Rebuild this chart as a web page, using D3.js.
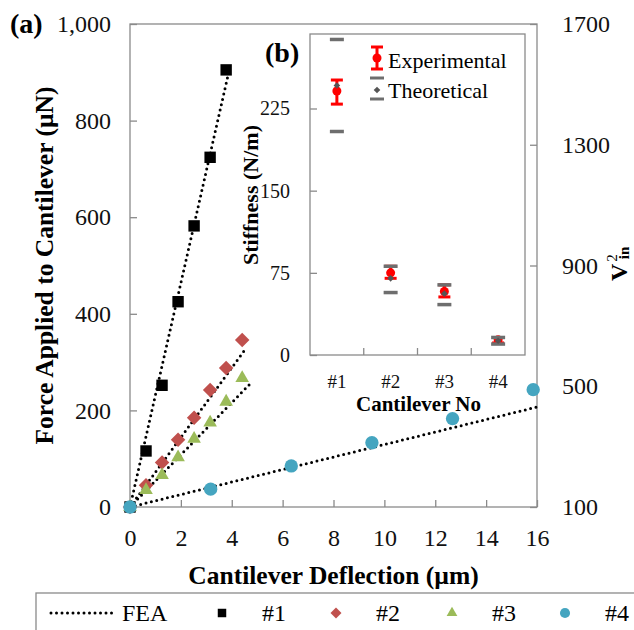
<!DOCTYPE html>
<html>
<head>
<meta charset="utf-8">
<script src="https://cdn.jsdelivr.net/npm/d3@7"></script>
<style>
  body { margin: 0; background: #fff; }
  svg { display: block; font-family: "Liberation Serif", "Times New Roman", serif; }
</style>
</head>
<body>
<svg id="chart" width="634" height="630"></svg>
<script>
// main chart data (deflection in um, force in uN)
const series = ["#1", "#2", "#3", "#4"];
const deflection1 = [0, 0.63, 1.26, 1.89, 2.52, 3.15, 3.78];
const force1 = [0, 116, 252, 425, 582, 724, 905];
const deflection2 = [0, 0.63, 1.26, 1.89, 2.52, 3.15, 3.78, 4.41];
const force2 = [0, 45, 92, 139, 185, 242, 288, 346];
const deflection3 = [0, 0.63, 1.26, 1.89, 2.52, 3.15, 3.78, 4.41];
const force3 = [0, 35, 66, 103, 141, 175, 218, 267];
const deflection4 = [0, 3.17, 6.34, 9.51, 12.68, 15.85];
const force4 = [0, 37, 85, 133, 183, 243];
// FEA lines run from the origin to these end points
const feaEndDeflection = [3.85, 4.54, 4.74, 16];
const feaEndForce = [893, 327, 256, 207];

const xTicks = [0, 2, 4, 6, 8, 10, 12, 14, 16];
const yTicks = [0, 200, 400, 600, 800, 1000];
const vinTicks = [100, 500, 900, 1300, 1700];

// inset (b) stiffness data
const cantilevers = ["#1", "#2", "#3", "#4"];
const expMean = [241, 75, 58, 14];
const expLow = [229, 70, 53, 11];
const expHigh = [251, 81, 64, 16];
const theoValue = [246, 70, 56, 13];
const theoLow = [204, 57, 46, 10];
const theoHigh = [288, 81, 64, 16];
const stiffTicks = [0, 75, 150, 225];

const colors = { "#1": "#000000", "#2": "#c0504d", "#3": "#9bbb59", "#4": "#45a5c0" };
const frameGrey = "#8a8a8a";

const svg = d3.select("#chart");

// main plot area
const plot = { left: 130, right: 537, top: 24, bottom: 507 };
const x = d3.scaleLinear().domain([0, 16]).range([plot.left, plot.right]);
const y = d3.scaleLinear().domain([0, 1000]).range([plot.bottom, plot.top]);
const y2 = d3.scaleLinear().domain([100, 1700]).range([plot.bottom, plot.top]);

// frame
svg.append("rect")
    .attr("x", plot.left).attr("y", plot.top)
    .attr("width", plot.right - plot.left).attr("height", plot.bottom - plot.top)
    .attr("fill", "none").attr("stroke", frameGrey).attr("stroke-width", 1.3);

function styleAxis(g, size) {
    g.select(".domain").remove();
    g.attr("font-family", null).attr("font-size", size);
    g.selectAll(".tick line").attr("stroke", frameGrey).attr("stroke-width", 1.3);
    g.selectAll(".tick text").attr("fill", "#111");
}

svg.append("g")
    .attr("transform", `translate(${plot.left},0)`)
    .call(d3.axisLeft(y).tickValues(yTicks).tickSize(-7).tickPadding(19).tickFormat(d3.format(",")))
    .call(g => styleAxis(g, 24));

svg.append("g")
    .attr("transform", `translate(0,${plot.bottom})`)
    .call(d3.axisBottom(x).tickValues(xTicks).tickSize(-7).tickPadding(22))
    .call(g => styleAxis(g, 24));

svg.append("g")
    .attr("transform", `translate(${plot.right},0)`)
    .call(d3.axisRight(y2).tickValues(vinTicks).tickSize(-7).tickPadding(25).tickFormat(d3.format("d")))
    .call(g => styleAxis(g, 24));

// axis titles
svg.append("text")
    .attr("transform", `translate(44,${(plot.top + plot.bottom) / 2}) rotate(-90)`)
    .attr("text-anchor", "middle").attr("dominant-baseline", "central")
    .attr("font-weight", "bold").attr("font-size", 25.5)
    .text("Force Applied to Cantilever (\u00b5N)");

svg.append("text")
    .attr("x", (plot.left + plot.right) / 2).attr("y", 575)
    .attr("text-anchor", "middle").attr("dominant-baseline", "central")
    .attr("font-weight", "bold").attr("font-size", 25.5)
    .text("Cantilever Deflection (\u00b5m)");

const vin = svg.append("text")
    .attr("transform", `translate(619,281) rotate(-90)`)
    .attr("dominant-baseline", "central")
    .attr("font-weight", "bold").attr("font-size", 24);
vin.append("tspan").text("V");
vin.append("tspan").attr("font-size", 15).attr("dx", 2).attr("dy", -7).attr("font-weight", "normal").text("2");
vin.append("tspan").attr("font-size", 15).attr("dx", -5).attr("dy", 12).text("in");

svg.append("text")
    .attr("x", 10).attr("y", 23)
    .attr("dominant-baseline", "central")
    .attr("font-weight", "bold").attr("font-size", 28)
    .text("(a)");

// FEA dotted lines
const feaLines = series.map((s, i) => [[0, 0], [feaEndDeflection[i], feaEndForce[i]]]);
svg.append("g").selectAll("path")
    .data(feaLines)
    .join("path")
    .attr("d", d3.line().x(d => x(d[0])).y(d => y(d[1])))
    .attr("fill", "none")
    .attr("stroke", "#000")
    .attr("stroke-width", 3)
    .attr("stroke-linecap", "round")
    .attr("stroke-dasharray", "0,5.5");

// markers
const shapes = {
    "#1": { type: d3.symbolSquare, size: 130, rotate: 0 },
    "#2": { type: d3.symbolSquare, size: 105, rotate: 45 },
    "#3": { type: d3.symbolTriangle, size: 80, rotate: 0 },
    "#4": { type: d3.symbolCircle, size: 140, rotate: 0 }
};
const pointSets = [
    deflection1.map((v, i) => ({ s: "#1", dx: v, f: force1[i] })),
    deflection2.map((v, i) => ({ s: "#2", dx: v, f: force2[i] })),
    deflection3.map((v, i) => ({ s: "#3", dx: v, f: force3[i] })),
    deflection4.map((v, i) => ({ s: "#4", dx: v, f: force4[i] }))
];
pointSets.forEach(pts => {
    svg.append("g").selectAll("path")
        .data(pts)
        .join("path")
        .attr("d", d => d3.symbol(shapes[d.s].type, shapes[d.s].size)())
        .attr("transform", d => `translate(${x(d.dx)},${y(d.f)}) rotate(${shapes[d.s].rotate})`)
        .attr("fill", d => colors[d.s]);
});

// ---- inset (b) ----
const inset = { left: 310, right: 525, top: 34, bottom: 355 };
const xi = d3.scaleBand().domain(cantilevers).range([inset.left, inset.right]);
const yi = d3.scaleLinear().domain([0, 293]).range([inset.bottom, inset.top]);

svg.append("rect")
    .attr("x", inset.left).attr("y", inset.top)
    .attr("width", inset.right - inset.left).attr("height", inset.bottom - inset.top)
    .attr("fill", "#fff").attr("stroke", frameGrey).attr("stroke-width", 1.3);

svg.append("g")
    .attr("transform", `translate(${inset.left},0)`)
    .call(d3.axisLeft(yi).tickValues(stiffTicks).tickSize(-7).tickPadding(20))
    .call(g => styleAxis(g, 20));

svg.append("g")
    .attr("transform", `translate(0,${inset.bottom})`)
    .call(d3.axisBottom(xi).tickSize(0).tickPadding(20))
    .call(g => styleAxis(g, 19));

// category separator ticks
svg.append("g").selectAll("line")
    .data(cantilevers.slice(1))
    .join("line")
    .attr("x1", d => xi(d)).attr("x2", d => xi(d))
    .attr("y1", inset.bottom).attr("y2", inset.bottom - 7)
    .attr("stroke", frameGrey).attr("stroke-width", 1.3);

svg.append("text")
    .attr("x", (inset.left + inset.right) / 2 + 1).attr("y", 404)
    .attr("text-anchor", "middle").attr("dominant-baseline", "central")
    .attr("font-weight", "bold").attr("font-size", 21)
    .text("Cantilever No");

svg.append("text")
    .attr("transform", "translate(250,195) rotate(-90)")
    .attr("text-anchor", "middle").attr("dominant-baseline", "central")
    .attr("font-weight", "bold").attr("font-size", 22)
    .text("Stiffness (N/m)");

svg.append("text")
    .attr("x", 265).attr("y", 52)
    .attr("dominant-baseline", "central")
    .attr("font-weight", "bold").attr("font-size", 28)
    .text("(b)");

const cx = d => xi(d) + xi.bandwidth() / 2;
const stiff = cantilevers.map((c, i) => ({
    c, mean: expMean[i], lo: expLow[i], hi: expHigh[i],
    theo: theoValue[i], tlo: theoLow[i], thi: theoHigh[i]
}));

// experimental error bars
const expG = svg.append("g").attr("stroke", "#ff0000").attr("stroke-width", 3);
expG.selectAll("line.v").data(stiff).join("line").attr("class", "v")
    .attr("x1", d => cx(d.c)).attr("x2", d => cx(d.c))
    .attr("y1", d => yi(d.lo)).attr("y2", d => yi(d.hi));
["lo", "hi"].forEach(k => {
    expG.selectAll("line." + k).data(stiff).join("line").attr("class", k)
        .attr("x1", d => cx(d.c) - 6).attr("x2", d => cx(d.c) + 6)
        .attr("y1", d => yi(d[k])).attr("y2", d => yi(d[k]));
});
svg.append("g").selectAll("circle").data(stiff).join("circle")
    .attr("cx", d => cx(d.c)).attr("cy", d => yi(d.mean))
    .attr("r", 4.5).attr("fill", "#ff0000");

// theoretical caps and diamonds
const thG = svg.append("g").attr("stroke", "#6e6e6e").attr("stroke-width", 3.5);
["tlo", "thi"].forEach(k => {
    thG.selectAll("line." + k).data(stiff).join("line").attr("class", k)
        .attr("x1", d => cx(d.c) - 7).attr("x2", d => cx(d.c) + 7)
        .attr("y1", d => yi(d[k])).attr("y2", d => yi(d[k]));
});
svg.append("g").selectAll("path").data(stiff).join("path")
    .attr("d", d3.symbol(d3.symbolSquare, 22)())
    .attr("transform", d => `translate(${cx(d.c)},${yi(d.theo)}) rotate(45)`)
    .attr("fill", "#555");

// inset legend
const lgI = svg.append("g");
lgI.append("line").attr("x1", 377).attr("x2", 377).attr("y1", 47).attr("y2", 69)
    .attr("stroke", "#ff0000").attr("stroke-width", 3);
[47, 69].forEach(v => lgI.append("line").attr("x1", 371).attr("x2", 383).attr("y1", v).attr("y2", v)
    .attr("stroke", "#ff0000").attr("stroke-width", 3));
lgI.append("circle").attr("cx", 377).attr("cy", 58).attr("r", 4.5).attr("fill", "#ff0000");
lgI.append("text").attr("x", 388).attr("y", 60).attr("dominant-baseline", "central")
    .attr("font-size", 22).text("Experimental");
[78, 99].forEach(v => lgI.append("line").attr("x1", 370).attr("x2", 384).attr("y1", v).attr("y2", v)
    .attr("stroke", "#6e6e6e").attr("stroke-width", 3));
lgI.append("path").attr("d", d3.symbol(d3.symbolSquare, 22)())
    .attr("transform", "translate(377,90) rotate(45)").attr("fill", "#555");
lgI.append("text").attr("x", 388).attr("y", 90).attr("dominant-baseline", "central")
    .attr("font-size", 22).text("Theoretical");

// ---- bottom legend ----
const legend = svg.append("g");
legend.append("rect")
    .attr("x", 36).attr("y", 593).attr("width", 640).attr("height", 80)
    .attr("fill", "#fff").attr("stroke", frameGrey).attr("stroke-width", 1.3);
const ly = 613;
legend.append("line").attr("x1", 51).attr("x2", 113).attr("y1", ly).attr("y2", ly)
    .attr("stroke", "#000").attr("stroke-width", 3)
    .attr("stroke-linecap", "round").attr("stroke-dasharray", "0,5.5");
legend.append("text").attr("x", 122).attr("y", ly).attr("dominant-baseline", "central")
    .attr("font-size", 24).text("FEA");
const legendX = [222, 336, 452, 565];
const legendSize = { "#1": 72, "#2": 60, "#3": 50, "#4": 80 };
series.forEach((s, i) => {
    legend.append("path")
        .attr("d", d3.symbol(shapes[s].type, legendSize[s])())
        .attr("transform", `translate(${legendX[i]},${ly}) rotate(${shapes[s].rotate})`)
        .attr("fill", colors[s]);
    legend.append("text").attr("x", legendX[i] + 40).attr("y", ly)
        .attr("dominant-baseline", "central").attr("font-size", 24).text(s);
});
</script>
</body>
</html>
